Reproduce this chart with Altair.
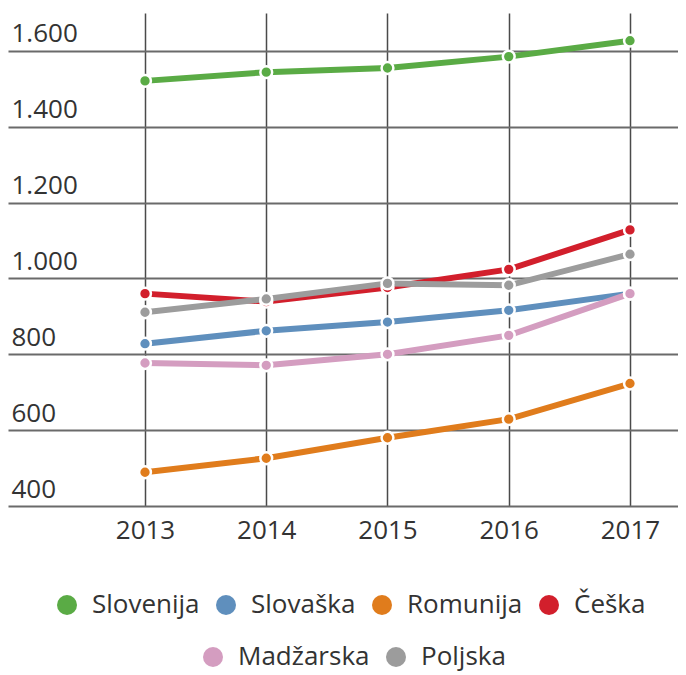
import altair as alt
import pandas as pd

years = [2013, 2014, 2015, 2016, 2017]
countries = ["Slovenija", "Slovaška", "Romunija", "Češka", "Madžarska", "Poljska"]
colors = ["#5aab45", "#5f8fbd", "#e07c1c", "#d21f2c", "#d49dc0", "#9c9c9c"]

slovenija = [1521, 1544, 1555, 1585, 1627]
slovaska = [828, 862, 885, 916, 960]
romunija = [489, 526, 580, 629, 723]
ceska = [960, 939, 976, 1024, 1128]
madzarska = [777, 771, 800, 850, 960]
poljska = [911, 946, 987, 982, 1064]

y_ticks = [400, 600, 800, 1000, 1200, 1400, 1600]

series = [slovenija, slovaska, romunija, ceska, madzarska, poljska]
rows = []
for name, vals in zip(countries, series):
    for yr, v in zip(years, vals):
        rows.append({"country": name, "year": yr, "value": v})
df = pd.DataFrame(rows)

group_a = countries[:4]
group_b = countries[4:]
colors_a = colors[:4]
colors_b = colors[4:]

FONT = "Open Sans"
TXT = "#333333"

x_enc = alt.X(
    "year:Q",
    scale=alt.Scale(domain=[2011.87, 2017.396], nice=False, zero=False),
    axis=alt.Axis(
        values=years, format="d", title=None, domain=False, ticks=False,
        labelFontSize=26, labelFont=FONT, labelColor=TXT, labelPadding=11,
        labelFlush=False, gridColor="#4a4a4a", gridWidth=1.5, gridOpacity=1,
    ),
)
y_enc = alt.Y(
    "value:Q",
    scale=alt.Scale(domain=[400, 1700], nice=False, zero=False),
    axis=alt.Axis(
        values=y_ticks, title=None, domain=False, ticks=False,
        labelAlign="left", labelPadding=-3, labelBaseline="alphabetic",
        labelOffset=-9, labelFontSize=26, labelFont=FONT, labelColor=TXT,
        labelExpr="replace(format(datum.value, ','), ',', '.')",
        gridColor="#6a6a6a", gridWidth=2, gridOpacity=1,
    ),
)

lines = alt.Chart(df).mark_line(strokeWidth=6).encode(
    x=x_enc, y=y_enc,
    stroke=alt.Stroke("country:N", scale=alt.Scale(domain=countries, range=colors), legend=None),
)

legend_common = dict(
    orient="none", direction="horizontal", title=None,
    symbolType="circle", symbolSize=400, symbolStrokeWidth=0, symbolOpacity=1,
    labelFontSize=26, labelFont=FONT, labelColor=TXT, labelOffset=12,
    columnPadding=13, padding=0,
)

points_a = alt.Chart(df).transform_filter(
    alt.FieldOneOfPredicate(field="country", oneOf=group_a)
).mark_circle(size=140, opacity=1, stroke="white", strokeWidth=2.5).encode(
    x=x_enc, y=y_enc,
    fill=alt.Fill("country:N", scale=alt.Scale(domain=group_a, range=colors_a),
                  legend=alt.Legend(legendX=46, legendY=579, **legend_common)),
)

points_b = alt.Chart(df).transform_filter(
    alt.FieldOneOfPredicate(field="country", oneOf=group_b)
).mark_circle(size=140, opacity=1, stroke="white", strokeWidth=2.5).encode(
    x=x_enc, y=y_enc,
    color=alt.Color("country:N", scale=alt.Scale(domain=group_b, range=colors_b),
                    legend=alt.Legend(legendX=192, legendY=631, **legend_common)),
)

chart = alt.layer(lines, points_a, points_b).resolve_scale(
    color="independent", fill="independent", stroke="independent"
).properties(
    width=670, height=493,
    autosize=alt.AutoSizeParams(type="none"),
    padding={"left": 0, "top": 5, "right": 0, "bottom": 167},
    background="white",
).configure_view(stroke=None)

chart.save("out.html", embed_options={"renderer": "svg", "actions": False})
